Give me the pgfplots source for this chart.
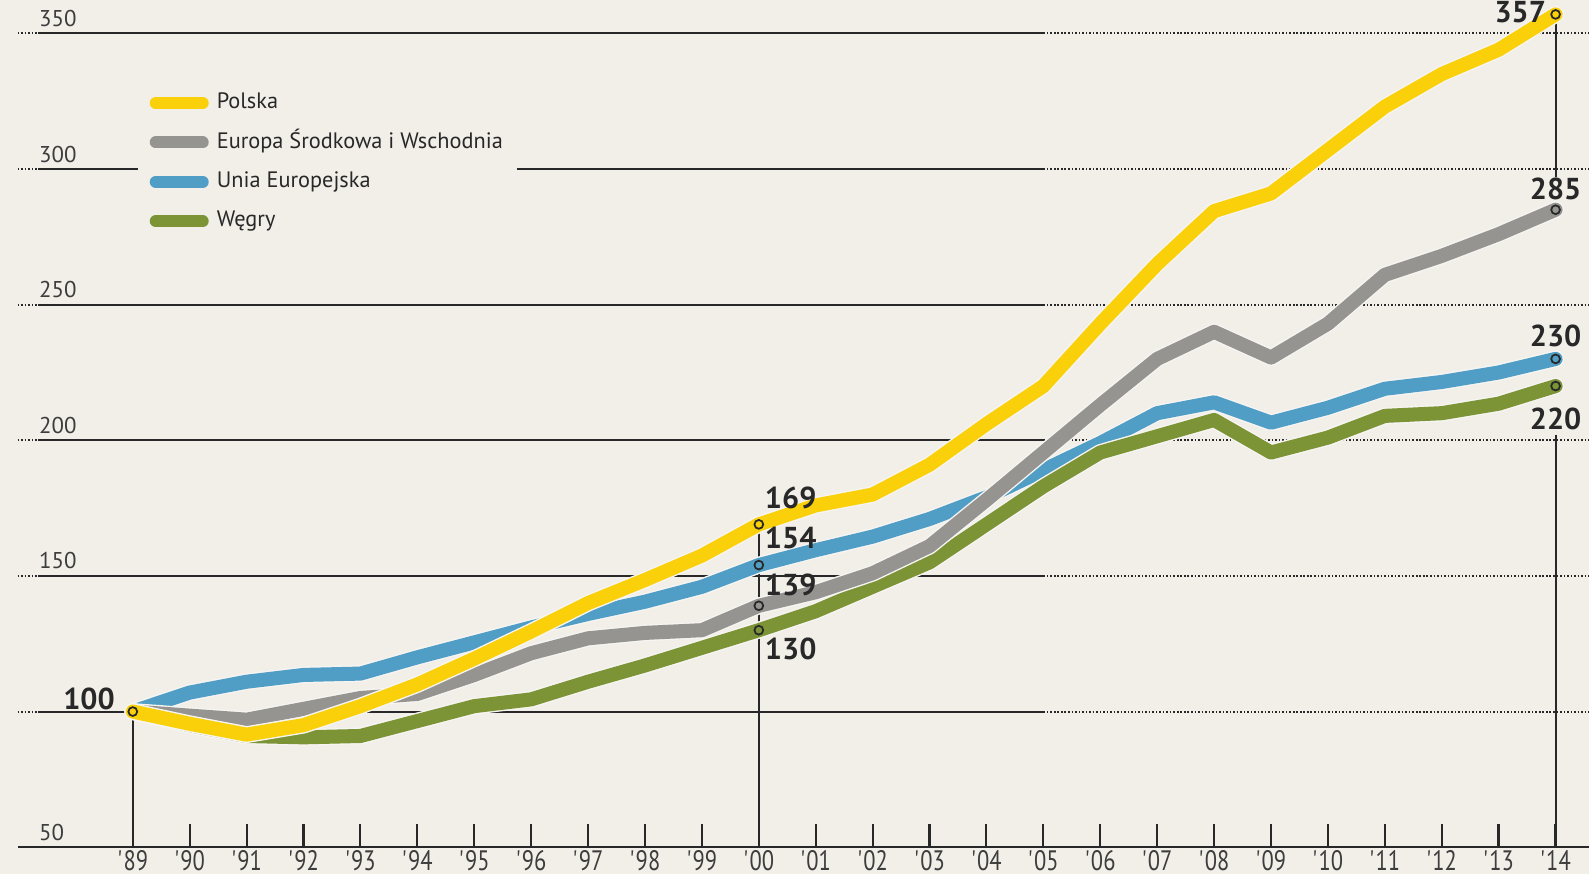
\documentclass[border=0pt]{standalone}
\usepackage{fontspec}
\setmainfont{PT Sans}
\newfontfamily\condfont{PT Sans}[FakeStretch=0.8]
\usepackage{pgfplots}
\pgfplotsset{compat=1.18}
\definecolor{bg}{RGB}{242,239,233}
\definecolor{ylw}{RGB}{249,208,10}
\definecolor{gry}{RGB}{150,148,145}
\definecolor{blu}{RGB}{80,158,198}
\definecolor{grn}{RGB}{124,148,54}
\definecolor{dark}{RGB}{40,40,40}
\newcommand\yr[1]{\textquotesingle#1}
\begin{document}
\begin{tikzpicture}
\fill[bg] (0,0) rectangle (15.89cm,8.74cm);
\begin{axis}[
  at={(1.328cm,0.268cm)}, anchor=south west,
  scale only axis, width=14.228cm, height=8.138cm,
  xmin=1989, xmax=2014, ymin=50, ymax=350,
  clip=false,
  axis line style={draw=none},
  xtick={1989,...,2014},
  xticklabels={\yr{89},\yr{90},\yr{91},\yr{92},\yr{93},\yr{94},\yr{95},\yr{96},\yr{97},\yr{98},\yr{99},\yr{00},\yr{01},\yr{02},\yr{03},\yr{04},\yr{05},\yr{06},\yr{07},\yr{08},\yr{09},\yr{10},\yr{11},\yr{12},\yr{13},\yr{14}},
  xtick pos=lower, tick align=inside,
  major tick length=2.35mm,
  xtick style={draw=dark, line width=0.6pt},
  xticklabel style={anchor=north, inner sep=0pt, yshift=-0.7pt, font=\condfont\fontsize{8}{8.5}\selectfont, text=dark!90},
  ytick={50,150,200,250,300,350},
  ytick style={draw=none},
  ytick pos=left,
  yticklabel style={anchor=south west, inner sep=0pt, xshift=-0.943cm, yshift=0.6mm, font=\fontsize{6.5}{7}\selectfont, text=dark!90},
  /pgf/number format/assume math mode=true,
  legend image code/.code={\draw[#1, line width=1.2mm, line cap=round] (0.06cm,0cm) -- (0.53cm,0cm);},
  legend style={draw=none, fill=none, at={(0.0114,0.929)}, anchor=north west,
    inner sep=0pt, row sep=4.8pt, column sep=2.3pt,
    font=\fontsize{6.35}{7}\selectfont, text=dark,
    nodes={inner sep=0pt, text height=4.8pt, text depth=1.6pt}},
  legend cell align=left,
  series/.style={line width=4pt, line cap=round, line join=round,
    preaction={draw=bg!60!white, line width=4.8pt, line cap=round, line join=round}},
]
% gridlines
\foreach \g in {350,250,200,150,100} {
  \edef\tmp{\noexpand\draw[dark, line width=0.6pt] (axis cs:1987.34,\g) -- (axis cs:2005,\g);
  \noexpand\draw[dark, line width=0.6pt, dash pattern=on 0.45pt off 0.55pt] (axis cs:2005,\g) -- (axis cs:2014.59,\g);
  \noexpand\draw[dark, line width=0.6pt, dash pattern=on 0.45pt off 0.55pt] (axis cs:1986.98,\g) -- (axis cs:1987.34,\g);}
  \tmp
}
\draw[dark, line width=0.6pt] (axis cs:1987.34,300) -- (axis cs:1989.09,300);
\draw[dark, line width=0.6pt] (axis cs:1995.75,300) -- (axis cs:2005,300);
\draw[dark, line width=0.6pt, dash pattern=on 0.45pt off 0.55pt] (axis cs:2005,300) -- (axis cs:2014.59,300);
\draw[dark, line width=0.6pt, dash pattern=on 0.45pt off 0.55pt] (axis cs:1986.98,300) -- (axis cs:1987.34,300);
\draw[dark, line width=0.6pt] (axis cs:1986.98,50) -- (axis cs:2014.59,50);
% vertical reference lines
\draw[dark, line width=0.6pt] (axis cs:1989,100) -- (axis cs:1989,50);
\draw[dark, line width=0.6pt] (axis cs:2000,169) -- (axis cs:2000,50);
\draw[dark, line width=0.6pt] (axis cs:2014,357) -- (axis cs:2014,297);
\draw[dark, line width=0.6pt] (axis cs:2014,202) -- (axis cs:2014,50);

% legend
\addlegendimage{ylw}\addlegendentry{Polska}
\addlegendimage{gry}\addlegendentry{Europa Środkowa i Wschodnia}
\addlegendimage{blu}\addlegendentry{Unia Europejska}
\addlegendimage{grn}\addlegendentry{Węgry}

% Unia Europejska
\addplot[series, blu, forget plot] coordinates {
(1989,100) (1990,107) (1991,111) (1992,113.5) (1993,114) (1994,120) (1995,125.5)
(1996,131) (1997,136) (1998,140.5) (1999,146) (2000,154) (2001,159.5) (2002,164.5)
(2003,171) (2004,179) (2005,189) (2006,199) (2007,210) (2008,214) (2009,206.5)
(2010,212) (2011,219) (2012,221.5) (2013,225) (2014,230)};
% Wegry
\addplot[series, grn, forget plot] coordinates {
(1989,100) (1990,95) (1991,91) (1992,90.5) (1993,91) (1994,96.5) (1995,102)
(1996,104.5) (1997,111) (1998,117) (1999,123.5) (2000,130) (2001,137) (2002,146)
(2003,155) (2004,169) (2005,183) (2006,195.5) (2007,201.5) (2008,207.5) (2009,195.5)
(2010,201) (2011,209) (2012,210) (2013,213.5) (2014,220)};
% Europa Srodkowa i Wschodnia
\addplot[series, gry, forget plot] coordinates {
(1989,100) (1990,98.5) (1991,97) (1992,101) (1993,105) (1994,106.5) (1995,113.5)
(1996,121.5) (1997,127) (1998,129) (1999,130) (2000,139) (2001,144) (2002,151)
(2003,161) (2004,178) (2005,195.5) (2006,213) (2007,230) (2008,240) (2009,230.5)
(2010,243) (2011,261) (2012,268) (2013,276) (2014,285)};
% Polska
\addplot[series, ylw, forget plot] coordinates {
(1989,100) (1990,95.5) (1991,91.5) (1992,95) (1993,102) (1994,110) (1995,119.5)
(1996,129.5) (1997,140) (1998,148.5) (1999,157.5) (2000,169) (2001,176) (2002,180)
(2003,191) (2004,206) (2005,220) (2006,243) (2007,265) (2008,284.5) (2009,291)
(2010,307) (2011,323) (2012,335) (2013,344) (2014,357)};
% markers
\addplot[only marks, mark=o, mark size=1.25pt, draw=dark, mark options={line width=0.5pt}, forget plot] coordinates {
(1989,100) (2000,169) (2000,154) (2000,139) (2000,130)
(2014,357) (2014,285) (2014,230) (2014,220)};
% value labels
\begin{scope}[every node/.style={font=\bfseries\fontsize{8.6}{9}\selectfont, text=dark, inner sep=0pt}]
\node at (axis cs:1988.23,104.6) {100};
\node at (axis cs:2000.56,178.9) {169};
\node at (axis cs:2000.56,163.9) {154};
\node at (axis cs:2000.56,146.8) {139};
\node at (axis cs:2000.56,123.2) {130};
\node at (axis cs:2013.38,357.8) {357};
\node at (axis cs:2014.0,292.5) {285};
\node at (axis cs:2014.0,238.3) {230};
\node at (axis cs:2014.0,208.0) {220};
\end{scope}
\end{axis}
\pgfresetboundingbox
\path (0,0) rectangle (15.89cm,8.74cm);
\end{tikzpicture}
\end{document}
